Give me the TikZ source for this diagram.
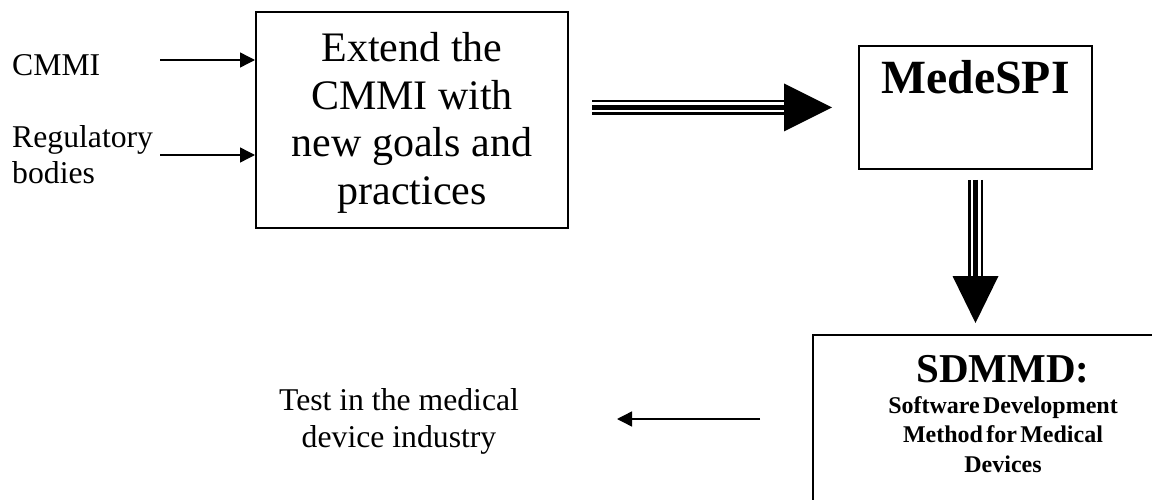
\documentclass[tikz,border=0pt]{standalone}
\usepackage{fontspec}
\setmainfont{Liberation Serif}
\usetikzlibrary{arrows.meta}
\begin{document}
\begin{tikzpicture}[x=1pt,y=-1pt,
  box/.style={draw,line width=2pt,inner sep=0pt},
  thinarrow/.style={line width=1.4pt,-{Triangle[length=15pt,width=15pt]}},
  triple/.style={line width=5.7pt,
    preaction={draw,line width=15pt},
    preaction={draw,white,line width=10pt}},
  lbl/.style={font=\fontsize{31.7}{36.5}\selectfont, inner sep=0pt}]
\useasboundingbox (0,0) rectangle (1152,500);
\clip (0,0) rectangle (1152,500);

% boxes
\node[box, minimum width=312pt, minimum height=216pt] (b1) at (412,120) {};
\node[inner sep=0pt, align=center, font=\fontsize{42}{47.7}\selectfont] (b1t)
      at ([yshift=-3pt]b1.center) {Extend the\\CMMI with\\new goals and\\practices};
\node[box, minimum width=233pt, text height=48pt, text depth=75pt, anchor=base,
      font=\bfseries\fontsize{47.7}{50}\selectfont] (m) at (975.5,94) {MedeSPI};
\node[box, anchor=north west, minimum width=382pt, minimum height=220pt] (s) at (812,334) {};
\node[inner sep=0pt, text width=382pt, align=center, anchor=base,
      font=\bfseries] (st) at (1003,382)
      {\fontsize{41}{41}\selectfont SDMMD:\par
       \fontsize{24}{29.5}\selectfont\vspace{1.5pt}Software Development\par Method for Medical\par Devices\par};

% labels
\node[lbl, anchor=base west] (cmmi) at (12,76) {CMMI};
\node[lbl, anchor=base west, align=left, font=\fontsize{31.7}{36}\selectfont] (reg) at (12,184) {Regulatory\\bodies};
\node[lbl, anchor=base, align=center] (test) at (399,447) {Test in the medical\\device industry};

% input arrows
\coordinate (a1) at (160,60);
\coordinate (a2) at (160,155);
\draw[thinarrow] (a1) -- (a1 -| b1.west);
\draw[thinarrow] (a2) -- (a2 -| b1.west);

% triple arrow to MedeSPI
\coordinate (hs) at (592,107.4);
\coordinate (hb) at (784,107.4);
\coordinate (ht) at (832,107.4);
\draw[triple] (hs) -- ([xshift=2pt]hb);
\fill ([yshift=24pt]hb) -- (ht) -- ([yshift=-24pt]hb) -- cycle;

% triple arrow down to SDMMD
\coordinate (vs) at (975.5,180);
\coordinate (vb) at (975.5,276);
\coordinate (vt) at (975.5,323);
\draw[triple] (vs) -- ([yshift=-2pt]vb);
\fill ([xshift=-23pt]vb) -- (vt) -- ([xshift=23pt]vb) -- cycle;

% output arrow
\coordinate (o1) at (760,419);
\coordinate (o2) at (617,419);
\draw[thinarrow] (o1) -- (o2);
\end{tikzpicture}
\end{document}
